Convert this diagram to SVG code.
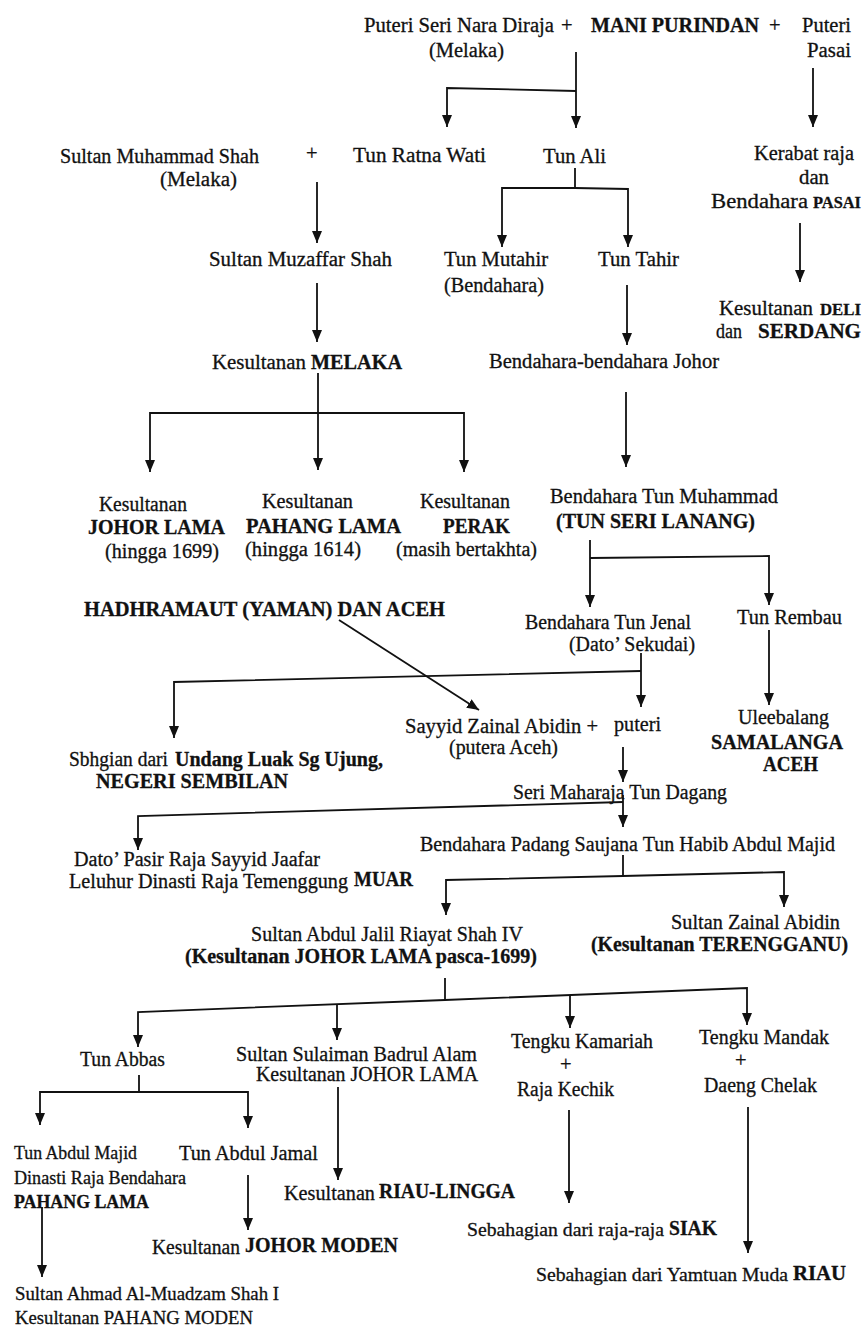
<svg xmlns="http://www.w3.org/2000/svg" width="864" height="1342" viewBox="0 0 864 1342">
<style>
text{font-family:"Liberation Serif","Times New Roman",serif;font-size:20.5px;fill:#111;stroke:#111;stroke-width:0.3}
.b{font-weight:bold}
.s{font-size:18.5px}
.c line,.c path{stroke:#111;stroke-width:1.8;fill:none}
</style>
<defs>
<marker id="ah" markerUnits="userSpaceOnUse" markerWidth="12" markerHeight="10" refX="12" refY="5" orient="auto">
<path d="M0,0 L12,5 L0,10 z" fill="#111"/>
</marker>
</defs>
<rect width="864" height="1342" fill="#fff"/>
<g class="c" id="connectors">
<line x1="576" y1="52" x2="576" y2="128" marker-end="url(#ah)"/>
<path d="M576,91 L447,88 L447,127" marker-end="url(#ah)"/>
<line x1="813" y1="68" x2="813" y2="127" marker-end="url(#ah)"/>
<line x1="317" y1="182" x2="317" y2="243" marker-end="url(#ah)"/>
<line x1="575" y1="168" x2="575" y2="188"/>
<path d="M575,188 L502,188 L502,247" marker-end="url(#ah)"/>
<path d="M575,188 L628,189 L628,247" marker-end="url(#ah)"/>
<line x1="800" y1="223" x2="800" y2="282" marker-end="url(#ah)"/>
<line x1="317" y1="283" x2="317" y2="342" marker-end="url(#ah)"/>
<line x1="627" y1="285" x2="627" y2="345" marker-end="url(#ah)"/>
<line x1="318" y1="373" x2="318" y2="470" marker-end="url(#ah)"/>
<path d="M318,413 L150,413 L150,472" marker-end="url(#ah)"/>
<path d="M318,413 L464,413 L464,472" marker-end="url(#ah)"/>
<line x1="626" y1="392" x2="626" y2="467" marker-end="url(#ah)"/>
<line x1="590" y1="540" x2="590" y2="607" marker-end="url(#ah)"/>
<path d="M590,558 L769,556 L769,605" marker-end="url(#ah)"/>
<line x1="339" y1="620" x2="479" y2="710" marker-end="url(#ah)"/>
<line x1="641" y1="653" x2="641" y2="707" marker-end="url(#ah)"/>
<path d="M641,671 L174,682 L174,738" marker-end="url(#ah)"/>
<line x1="769" y1="630" x2="769" y2="705" marker-end="url(#ah)"/>
<line x1="623" y1="747" x2="623" y2="782" marker-end="url(#ah)"/>
<line x1="623" y1="795" x2="623" y2="827" marker-end="url(#ah)"/>
<path d="M623,802 L138,816 L138,850" marker-end="url(#ah)"/>
<line x1="623" y1="855" x2="623" y2="876"/>
<path d="M623,876 L446,880 L446,915" marker-end="url(#ah)"/>
<path d="M623,876 L784,872 L784,907" marker-end="url(#ah)"/>
<line x1="445" y1="978" x2="445" y2="1000"/>
<path d="M445,1000 L138,1012 L138,1047" marker-end="url(#ah)"/>
<path d="M445,1000 L747,988 L747,1025" marker-end="url(#ah)"/>
<line x1="337" y1="1004" x2="337" y2="1040" marker-end="url(#ah)"/>
<line x1="570" y1="995" x2="570" y2="1028" marker-end="url(#ah)"/>
<line x1="139" y1="1075" x2="139" y2="1092"/>
<path d="M139,1092 L40,1092 L40,1125" marker-end="url(#ah)"/>
<path d="M139,1092 L248,1092 L248,1128" marker-end="url(#ah)"/>
<line x1="338" y1="1087" x2="338" y2="1180" marker-end="url(#ah)"/>
<line x1="569" y1="1110" x2="569" y2="1203" marker-end="url(#ah)"/>
<line x1="748" y1="1107" x2="748" y2="1253" marker-end="url(#ah)"/>
<line x1="248" y1="1175" x2="248" y2="1230" marker-end="url(#ah)"/>
<line x1="42" y1="1207" x2="42" y2="1277" marker-end="url(#ah)"/>
</g>
<g id="puteri-seri-nara-diraja">
<text x="364" y="32" textLength="190" lengthAdjust="spacingAndGlyphs">Puteri Seri Nara Diraja</text>
<text x="561" y="32">+</text>
<text x="429" y="57" textLength="75" lengthAdjust="spacingAndGlyphs">(Melaka)</text>
</g>
<g id="mani-purindan">
<text x="591" y="32" class="b" textLength="168" lengthAdjust="spacingAndGlyphs">MANI PURINDAN</text>
<text x="769" y="32">+</text>
</g>
<g id="puteri-pasai">
<text x="802" y="32" textLength="49" lengthAdjust="spacingAndGlyphs">Puteri</text>
<text x="807" y="57" textLength="44" lengthAdjust="spacingAndGlyphs">Pasai</text>
</g>
<g id="sultan-muhammad-shah">
<text x="60" y="163" textLength="199" lengthAdjust="spacingAndGlyphs">Sultan Muhammad Shah</text>
<text x="160" y="186" textLength="77" lengthAdjust="spacingAndGlyphs">(Melaka)</text>
<text x="306" y="160">+</text>
</g>
<g id="tun-ratna-wati">
<text x="353" y="162" textLength="133" lengthAdjust="spacingAndGlyphs">Tun Ratna Wati</text>
</g>
<g id="tun-ali">
<text x="543" y="163" textLength="63" lengthAdjust="spacingAndGlyphs">Tun Ali</text>
</g>
<g id="kerabat-raja">
<text x="754" y="160" textLength="100" lengthAdjust="spacingAndGlyphs">Kerabat raja</text>
<text x="799" y="184" textLength="30" lengthAdjust="spacingAndGlyphs">dan</text>
<text x="711" y="208" textLength="97" lengthAdjust="spacingAndGlyphs">Bendahara</text>
<text x="813" y="208" class="b" style="font-size:16.5px" textLength="48" lengthAdjust="spacingAndGlyphs">PASAI</text>
</g>
<g id="sultan-muzaffar-shah">
<text x="209" y="266" textLength="183" lengthAdjust="spacingAndGlyphs">Sultan Muzaffar Shah</text>
</g>
<g id="tun-mutahir">
<text x="444" y="266" textLength="104" lengthAdjust="spacingAndGlyphs">Tun Mutahir</text>
<text x="444" y="292" textLength="100" lengthAdjust="spacingAndGlyphs">(Bendahara)</text>
</g>
<g id="tun-tahir">
<text x="598" y="266" textLength="81" lengthAdjust="spacingAndGlyphs">Tun Tahir</text>
</g>
<g id="kesultanan-deli">
<text x="719" y="315" textLength="94" lengthAdjust="spacingAndGlyphs">Kesultanan</text>
<text x="820" y="315" class="b" style="font-size:17px" textLength="41" lengthAdjust="spacingAndGlyphs">DELI</text>
<text x="716" y="338" textLength="26" lengthAdjust="spacingAndGlyphs">dan</text>
<text x="758" y="338" class="b" textLength="103" lengthAdjust="spacingAndGlyphs">SERDANG</text>
</g>
<g id="kesultanan-melaka">
<text x="212" y="369" textLength="94" lengthAdjust="spacingAndGlyphs">Kesultanan</text>
<text x="311" y="369" class="b" textLength="91" lengthAdjust="spacingAndGlyphs">MELAKA</text>
</g>
<g id="bendahara-johor">
<text x="489" y="368" textLength="230" lengthAdjust="spacingAndGlyphs">Bendahara-bendahara  Johor</text>
</g>
<g id="johor-lama">
<text x="99" y="511" textLength="88" lengthAdjust="spacingAndGlyphs">Kesultanan</text>
<text x="88" y="534" class="b" textLength="137" lengthAdjust="spacingAndGlyphs">JOHOR LAMA</text>
<text x="105" y="558" textLength="114" lengthAdjust="spacingAndGlyphs">(hingga 1699)</text>
</g>
<g id="pahang-lama">
<text x="262" y="508" textLength="91" lengthAdjust="spacingAndGlyphs">Kesultanan</text>
<text x="246" y="533" class="b" textLength="155" lengthAdjust="spacingAndGlyphs">PAHANG LAMA</text>
<text x="245" y="556" textLength="116" lengthAdjust="spacingAndGlyphs">(hingga 1614)</text>
</g>
<g id="perak">
<text x="420" y="508" textLength="90" lengthAdjust="spacingAndGlyphs">Kesultanan</text>
<text x="443" y="533" class="b" textLength="67" lengthAdjust="spacingAndGlyphs">PERAK</text>
<text x="396" y="556" textLength="141" lengthAdjust="spacingAndGlyphs">(masih bertakhta)</text>
</g>
<g id="tun-muhammad">
<text x="550" y="503" textLength="228" lengthAdjust="spacingAndGlyphs">Bendahara  Tun Muhammad</text>
<text x="556" y="528" class="b" textLength="199" lengthAdjust="spacingAndGlyphs">(TUN SERI LANANG)</text>
</g>
<g id="hadhramaut">
<text x="84" y="616" class="b" textLength="361" lengthAdjust="spacingAndGlyphs">HADHRAMAUT (YAMAN)  DAN ACEH</text>
</g>
<g id="tun-jenal">
<text x="525" y="629" textLength="166" lengthAdjust="spacingAndGlyphs">Bendahara Tun Jenal</text>
<text x="569" y="651" textLength="126" lengthAdjust="spacingAndGlyphs">(Dato’ Sekudai)</text>
</g>
<g id="tun-rembau">
<text x="737" y="624" textLength="105" lengthAdjust="spacingAndGlyphs">Tun Rembau</text>
</g>
<g id="sayyid-zainal-abidin">
<text x="405" y="733" textLength="193" lengthAdjust="spacingAndGlyphs">Sayyid Zainal Abidin +</text>
<text x="449" y="754" textLength="109" lengthAdjust="spacingAndGlyphs">(putera Aceh)</text>
</g>
<g id="puteri">
<text x="614" y="731" textLength="47" lengthAdjust="spacingAndGlyphs">puteri</text>
</g>
<g id="samalanga">
<text x="738" y="724" textLength="91" lengthAdjust="spacingAndGlyphs">Uleebalang</text>
<text x="711" y="749" class="b" textLength="132" lengthAdjust="spacingAndGlyphs">SAMALANGA</text>
<text x="763" y="771" class="b" textLength="55" lengthAdjust="spacingAndGlyphs">ACEH</text>
</g>
<g id="undang-luak">
<text x="69" y="766" textLength="99" lengthAdjust="spacingAndGlyphs">Sbhgian dari</text>
<text x="175" y="766" class="b" textLength="208" lengthAdjust="spacingAndGlyphs">Undang Luak Sg Ujung,</text>
<text x="96" y="788" class="b" textLength="192" lengthAdjust="spacingAndGlyphs">NEGERI SEMBILAN</text>
</g>
<g id="tun-dagang">
<text x="513" y="799" textLength="214" lengthAdjust="spacingAndGlyphs">Seri Maharaja Tun Dagang</text>
</g>
<g id="dato-pasir-raja">
<text x="74" y="866" textLength="246" lengthAdjust="spacingAndGlyphs">Dato’ Pasir Raja Sayyid Jaafar</text>
<text x="69" y="888" style="font-size:20px" textLength="279" lengthAdjust="spacingAndGlyphs">Leluhur Dinasti Raja Temenggung</text>
<text x="354" y="886" class="b" textLength="59" lengthAdjust="spacingAndGlyphs">MUAR</text>
</g>
<g id="tun-habib">
<text x="420" y="851" textLength="415" lengthAdjust="spacingAndGlyphs">Bendahara Padang Saujana Tun Habib Abdul Majid</text>
</g>
<g id="abdul-jalil">
<text x="251" y="941" textLength="272" lengthAdjust="spacingAndGlyphs">Sultan Abdul Jalil Riayat Shah IV</text>
<text x="185" y="963" class="b" textLength="352" lengthAdjust="spacingAndGlyphs">(Kesultanan JOHOR LAMA pasca-1699)</text>
</g>
<g id="zainal-abidin-terengganu">
<text x="671" y="929" textLength="169" lengthAdjust="spacingAndGlyphs">Sultan Zainal Abidin</text>
<text x="591" y="951" class="b" textLength="257" lengthAdjust="spacingAndGlyphs">(Kesultanan TERENGGANU)</text>
</g>
<g id="tun-abbas">
<text x="80" y="1066" textLength="85" lengthAdjust="spacingAndGlyphs">Tun Abbas</text>
</g>
<g id="sulaiman">
<text x="236" y="1061" textLength="241" lengthAdjust="spacingAndGlyphs">Sultan Sulaiman Badrul Alam</text>
<text x="256" y="1081" textLength="222" lengthAdjust="spacingAndGlyphs">Kesultanan JOHOR LAMA</text>
</g>
<g id="kamariah">
<text x="511" y="1048" textLength="142" lengthAdjust="spacingAndGlyphs">Tengku Kamariah</text>
<text x="560" y="1071">+</text>
<text x="517" y="1096" textLength="97" lengthAdjust="spacingAndGlyphs">Raja Kechik</text>
</g>
<g id="mandak">
<text x="699" y="1044" textLength="130" lengthAdjust="spacingAndGlyphs">Tengku Mandak</text>
<text x="735" y="1067">+</text>
<text x="704" y="1092" textLength="113" lengthAdjust="spacingAndGlyphs">Daeng Chelak</text>
</g>
<g id="tun-abdul-majid">
<text x="14" y="1159" class="s" textLength="123" lengthAdjust="spacingAndGlyphs">Tun Abdul Majid</text>
<text x="14" y="1184" class="s" textLength="172" lengthAdjust="spacingAndGlyphs">Dinasti Raja Bendahara</text>
<text x="14" y="1208" class="b s" textLength="135" lengthAdjust="spacingAndGlyphs">PAHANG LAMA</text>
</g>
<g id="tun-abdul-jamal">
<text x="179" y="1160" textLength="139" lengthAdjust="spacingAndGlyphs">Tun Abdul Jamal</text>
</g>
<g id="riau-lingga">
<text x="284" y="1200" textLength="91" lengthAdjust="spacingAndGlyphs">Kesultanan</text>
<text x="379" y="1198" class="b" textLength="136" lengthAdjust="spacingAndGlyphs">RIAU-LINGGA</text>
</g>
<g id="johor-moden">
<text x="152" y="1254" textLength="88" lengthAdjust="spacingAndGlyphs">Kesultanan</text>
<text x="245" y="1252" class="b" textLength="153" lengthAdjust="spacingAndGlyphs">JOHOR MODEN</text>
</g>
<g id="siak">
<text x="467" y="1236" style="font-size:19.5px" textLength="197" lengthAdjust="spacingAndGlyphs">Sebahagian dari raja-raja</text>
<text x="669" y="1235" class="b" textLength="48" lengthAdjust="spacingAndGlyphs">SIAK</text>
</g>
<g id="riau">
<text x="536" y="1281" style="font-size:19.5px" textLength="252" lengthAdjust="spacingAndGlyphs">Sebahagian dari Yamtuan Muda</text>
<text x="793" y="1280" class="b" textLength="53" lengthAdjust="spacingAndGlyphs">RIAU</text>
</g>
<g id="pahang-moden">
<text x="15" y="1300" class="s" textLength="264" lengthAdjust="spacingAndGlyphs">Sultan Ahmad Al-Muadzam Shah I</text>
<text x="15" y="1324" class="s" textLength="238" lengthAdjust="spacingAndGlyphs">Kesultanan PAHANG MODEN</text>
</g>
</svg>
